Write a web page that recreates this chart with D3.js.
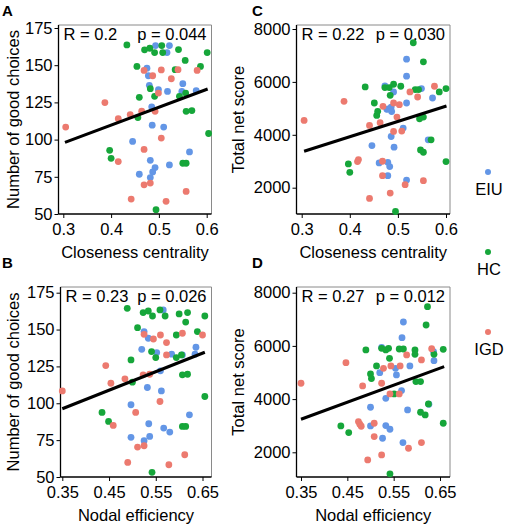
<!DOCTYPE html>
<html><head><meta charset="utf-8">
<script src="https://cdn.jsdelivr.net/npm/d3@7"></script>
<style>body{margin:0;background:#fff}svg{display:block;font-family:"Liberation Sans",Arial,sans-serif}</style>
</head><body>
<script>
// ---------- data ----------
const groups = ["EIU", "HC", "IGD"];
const xTicksCloseness = [0.3, 0.4, 0.5, 0.6];
const xTicksNodal = [0.35, 0.45, 0.55, 0.65];
const yTicksChoices = [50, 75, 100, 125, 150, 175];
const yTicksScore = [2000, 4000, 6000, 8000];

// Panel A: closeness centrality vs number of good choices
const EIU_A = [[0.445,98.8],[0.459,76.7],[0.475,148],[0.478,142.9],[0.48,136.5],[0.482,86.1],[0.482,74.5],[0.487,78.3],[0.492,81.2],[0.486,109.7],[0.485,122],[0.493,163.2],[0.499,133.6],[0.51,108.4],[0.517,158.5],[0.518,132.4],[0.522,163.2],[0.522,83],[0.55,137.6],[0.548,132.4],[0.564,91.7],[0.578,132.9]];
const HC_A = [[0.433,163.6],[0.397,92.8],[0.4,87.4],[0.454,149.2],[0.459,128.4],[0.456,114.8],[0.47,160.3],[0.481,161.4],[0.482,134.2],[0.491,158.5],[0.491,129.1],[0.494,52.9],[0.506,163.2],[0.508,158.5],[0.534,147],[0.541,160.5],[0.543,129.1],[0.555,153.2],[0.557,119],[0.569,119.5],[0.556,131.3],[0.55,84.1],[0.557,84.1],[0.587,149.2],[0.601,158.5],[0.604,104.1]];
const IGD_A = [[0.305,108.4],[0.387,124.9],[0.415,114],[0.415,85.2],[0.44,116.8],[0.442,60],[0.469,93.4],[0.469,69.6],[0.482,70.8],[0.464,119.1],[0.469,146.5],[0.487,142.9],[0.492,119],[0.499,131.3],[0.505,101],[0.515,58.5],[0.526,140.9],[0.54,147],[0.557,65.2],[0.58,146.5],[0.505,146.8]];
const fitA = [[0.3035,98.1],[0.602,134]];

// Panel C: closeness centrality vs total net score
const EIU_C = [[0.446,3594],[0.461,2936],[0.477,4962],[0.48,4980],[0.486,5050],[0.487,4880],[0.479,2961],[0.483,2797],[0.479,2455],[0.486,3936],[0.492,3531],[0.491,5620],[0.511,4253],[0.518,6861],[0.518,6215],[0.518,5202],[0.518,2290],[0.549,5747],[0.572,5392],[0.563,3810],[0.473,5850]];
const HC_C = [[0.432,5810],[0.451,5202],[0.456,4734],[0.458,4886],[0.397,2898],[0.4,2582],[0.473,5785],[0.482,5785],[0.491,5911],[0.484,5493],[0.506,5835],[0.495,1100],[0.532,7481],[0.536,5709],[0.543,5709],[0.553,6760],[0.545,4607],[0.553,4670],[0.547,3430],[0.553,3341],[0.569,3810],[0.586,5620],[0.6,5747],[0.6,2987]];
const IGD_C = [[0.305,4544],[0.388,5265],[0.416,2987],[0.418,3063],[0.441,4354],[0.441,1594],[0.463,4455],[0.468,3000],[0.468,2455],[0.469,5076],[0.484,1797],[0.491,5202],[0.491,4126],[0.498,4670],[0.503,5139],[0.508,4139],[0.515,2113],[0.525,5620],[0.541,5430],[0.553,2265],[0.576,5835]];
const fitC = [[0.305,3379],[0.601,5088]];

// Panel B: nodal efficiency vs number of good choices
const EIU_B = [[0.497,99],[0.497,76.9],[0.52,136.6],[0.525,148.6],[0.534,144.1],[0.532,110.7],[0.535,86.1],[0.525,74.6],[0.537,77.5],[0.552,134.4],[0.56,122],[0.562,108.4],[0.566,163.3],[0.567,83.2],[0.58,80.5],[0.584,133.3],[0.607,132.8],[0.622,92.2],[0.636,138],[0.634,133.3]];
const HC_B = [[0.489,164.4],[0.435,93.8],[0.449,87.7],[0.511,151.3],[0.497,129.4],[0.5,114.3],[0.523,161.5],[0.534,162.6],[0.543,159.2],[0.541,135.1],[0.55,131],[0.559,163.3],[0.57,159.2],[0.542,53.2],[0.594,146.3],[0.6,160.6],[0.618,161.5],[0.614,155.1],[0.639,148.6],[0.594,131],[0.605,132.8],[0.607,119.3],[0.618,119.7],[0.607,84.3],[0.614,84.3],[0.655,159.2],[0.655,104.6]];
const IGD_B = [[0.35,108.4],[0.443,125.6],[0.454,113.6],[0.459,85],[0.484,116.6],[0.49,59.9],[0.507,93.8],[0.511,70.3],[0.525,71.2],[0.525,146.8],[0.523,119.3],[0.537,119.7],[0.545,143.6],[0.56,146.3],[0.573,141.2],[0.573,132.8],[0.559,101.2],[0.578,58.3],[0.607,147.5],[0.612,65.1],[0.65,146.3]];
const fitB = [[0.35,96.3],[0.655,134.6]];

// Panel D: nodal efficiency vs total net score
const EIU_D = [[0.5,3693],[0.5,2992],[0.524,5947],[0.52,4995],[0.533,4031],[0.526,2529],[0.533,3005],[0.542,2867],[0.554,5158],[0.556,4907],[0.567,4319],[0.571,6898],[0.568,6310],[0.58,3593],[0.57,2366],[0.585,5246],[0.626,3806],[0.637,5446],[0.636,5785]];
const HC_D = [[0.436,2992],[0.453,2742],[0.49,5847],[0.5,4945],[0.502,4770],[0.513,5246],[0.524,5909],[0.533,5847],[0.539,5909],[0.541,5534],[0.551,4194],[0.542,1189],[0.562,5884],[0.571,5884],[0.596,5847],[0.596,5684],[0.598,4657],[0.608,4657],[0.608,3505],[0.618,3405],[0.623,7474],[0.62,6786],[0.625,3819],[0.637,5684],[0.657,5872],[0.657,3092]];
const IGD_D = [[0.35,4595],[0.447,5371],[0.474,3155],[0.477,3055],[0.48,2980],[0.483,4494],[0.494,1715],[0.508,3092],[0.508,2591],[0.524,1903],[0.524,4595],[0.528,5158],[0.544,5246],[0.542,4194],[0.562,4194],[0.564,5246],[0.578,5659],[0.582,2153],[0.61,5471],[0.61,2366],[0.632,5897]];
const fitD = [[0.35,3242],[0.659,5221]];

const statsA = ["R = 0.2", "p = 0.044"];
const statsC = ["R = 0.22", "p = 0.030"];
const statsB = ["R = 0.23", "p = 0.026"];
const statsD = ["R = 0.27", "p = 0.012"];

// ---------- layout / style ----------
const colors = {EIU: "#6396e6", HC: "#16a63a", IGD: "#ec7a6f"};
const W = 510, H = 525;
const svg = d3.select("body").append("svg").attr("width", W).attr("height", H);

const panels = [
  {letter:"A", series:{EIU:EIU_A,HC:HC_A,IGD:IGD_A}, fit:fitA, stats:statsA,
   xT:xTicksCloseness, yT:yTicksChoices, xTitle:"Closeness centrality", yTitle:"Number of good choices",
   box:{l:58.5,r:211.5,t:25,b:214}, xa:[0.3,0.6,63.3,206.7], ya:[50,175,214,28],
   letterPos:[2,16], yTitleX:13},
  {letter:"C", series:{EIU:EIU_C,HC:HC_C,IGD:IGD_C}, fit:fitC, stats:statsC,
   xT:xTicksCloseness, yT:yTicksScore, xTitle:"Closeness centrality", yTitle:"Total net score",
   box:{l:296.5,r:450,t:25,b:214}, xa:[0.3,0.6,301.7,446], ya:[2000,8000,187.7,29],
   letterPos:[252,16], yTitleX:238},
  {letter:"B", series:{EIU:EIU_B,HC:HC_B,IGD:IGD_B}, fit:fitB, stats:statsB,
   xT:xTicksNodal, yT:yTicksChoices, xTitle:"Nodal efficiency", yTitle:"Number of good choices",
   box:{l:60.5,r:211.5,t:287,b:477}, xa:[0.35,0.65,62.3,202.5], ya:[50,175,477,292.7],
   letterPos:[2,268], yTitleX:13},
  {letter:"D", series:{EIU:EIU_D,HC:HC_D,IGD:IGD_D}, fit:fitD, stats:statsD,
   xT:xTicksNodal, yT:yTicksScore, xTitle:"Nodal efficiency", yTitle:"Total net score",
   box:{l:296.5,r:450,t:287,b:477}, xa:[0.35,0.65,301,440], ya:[2000,8000,452.3,292.7],
   letterPos:[252,268], yTitleX:238}
];

const FS = 16.5;
panels.forEach(p => {
  const g = svg.append("g");
  const b = p.box;
  const x = d3.scaleLinear().domain([p.xa[0], p.xa[1]]).range([p.xa[2], p.xa[3]]);
  const y = d3.scaleLinear().domain([p.ya[0], p.ya[1]]).range([p.ya[2], p.ya[3]]);

  // box: top/right gray
  g.append("line").attr("x1", b.l).attr("x2", b.r).attr("y1", b.t).attr("y2", b.t).attr("stroke", "#8a8a8a").attr("stroke-width", 1);
  g.append("line").attr("x1", b.r).attr("x2", b.r).attr("y1", b.t).attr("y2", b.b).attr("stroke", "#8a8a8a").attr("stroke-width", 1);

  // axes
  const yAxis = d3.axisLeft(y).tickValues(p.yT).tickSize(4).tickPadding(2).tickFormat(d3.format("d"));
  const ga = g.append("g").attr("transform", `translate(${b.l},0)`).call(yAxis);
  ga.select(".domain").remove();
  ga.selectAll("text").attr("font-size", FS).attr("fill", "#000").attr("font-family", "Liberation Sans, Arial, sans-serif");
  ga.selectAll("line").attr("stroke", "#000");

  const xAxis = d3.axisBottom(x).tickValues(p.xT).tickSize(4).tickPadding(5).tickFormat(d => String(d));
  const gx = g.append("g").attr("transform", `translate(0,${b.b})`).call(xAxis);
  gx.select(".domain").remove();
  gx.selectAll("text").attr("font-size", FS).attr("fill", "#000").attr("font-family", "Liberation Sans, Arial, sans-serif");
  gx.selectAll("line").attr("stroke", "#000");

  g.append("line").attr("x1", b.l).attr("x2", b.l).attr("y1", b.t).attr("y2", b.b).attr("stroke", "#000").attr("stroke-width", 1.3);
  g.append("line").attr("x1", b.l).attr("x2", b.r).attr("y1", b.b).attr("y2", b.b).attr("stroke", "#000").attr("stroke-width", 1.3);

  // points
  groups.forEach(k => {
    g.append("g").selectAll("circle").data(p.series[k]).join("circle")
      .attr("cx", d => x(d[0])).attr("cy", d => y(d[1])).attr("r", 3.4)
      .attr("fill", colors[k]);
  });

  // fit line
  g.append("path").datum(p.fit)
    .attr("d", d3.line().x(d => x(d[0])).y(d => y(d[1])))
    .attr("stroke", "#000").attr("stroke-width", 3).attr("fill", "none");

  // stats
  g.append("text").attr("x", b.l + 5).attr("y", b.t + 15).attr("font-size", FS).text(p.stats[0]);
  g.append("text").attr("x", b.r - 5).attr("y", b.t + 15).attr("font-size", FS).attr("text-anchor", "end").text(p.stats[1]);

  // titles
  g.append("text").attr("x", (b.l + b.r) / 2).attr("y", b.b + 44).attr("text-anchor", "middle").attr("font-size", FS).text(p.xTitle);
  g.append("text").attr("transform", `translate(${p.yTitleX},${(b.t + b.b) / 2}) rotate(-90)`)
    .attr("dy", "0.35em").attr("text-anchor", "middle").attr("font-size", FS).text(p.yTitle);

  // panel letter
  g.append("text").attr("x", p.letterPos[0]).attr("y", p.letterPos[1]).attr("font-size", 15).attr("font-weight", "bold").text(p.letter);
});

// legend
const legY = [172, 252, 332];
groups.forEach((k, i) => {
  svg.append("circle").attr("cx", 488).attr("cy", legY[i]).attr("r", 3).attr("fill", colors[k]);
  svg.append("text").attr("x", 489).attr("y", legY[i] + 23).attr("text-anchor", "middle").attr("font-size", FS).text(k);
});
</script>
</body></html>
